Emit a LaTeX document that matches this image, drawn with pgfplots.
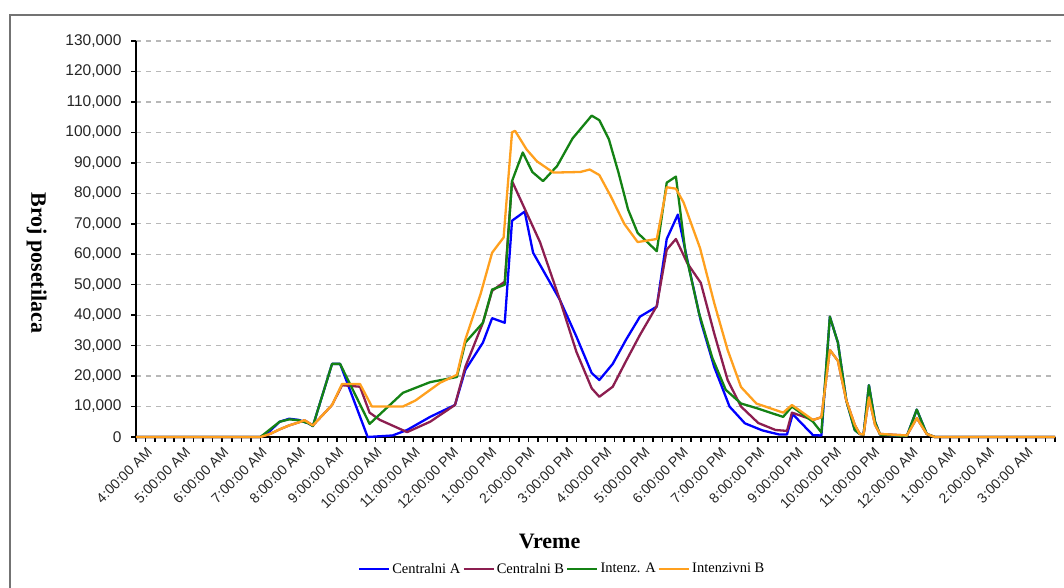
\documentclass[border=0pt]{standalone}
\usepackage{fontspec}
\setmainfont{Liberation Serif}
\newfontfamily\arialfont{Liberation Sans}
\usepackage{pgfplots}
\pgfplotsset{compat=1.18}
\definecolor{cA}{RGB}{0,0,255}
\definecolor{cB}{RGB}{140,30,80}
\definecolor{iA}{RGB}{20,130,20}
\definecolor{iB}{RGB}{255,160,30}
\begin{document}
\begin{tikzpicture}[x=1pt,y=1pt]
\useasboundingbox (0,0) rectangle (1064,588);
\draw[black!55, line width=2pt] (10,-20) rectangle (1084,573);
\begin{axis}[
  at={(136pt,151pt)}, anchor=south west,
  scale only axis, width=919pt, height=396pt,
  xmin=4, xmax=28, ymin=0, ymax=130000,
  clip=false,
  axis x line*=bottom, axis y line*=left,
  axis line style={black, line width=1.6pt},
  every tick/.style={black, line width=1.6pt},
  tick align=outside,
  major tick length=5pt, minor tick length=5pt,
  xtick={4,...,28},
  minor x tick num=3,
  xticklabels={4:00:00 AM,5:00:00 AM,6:00:00 AM,7:00:00 AM,8:00:00 AM,9:00:00 AM,10:00:00 AM,11:00:00 AM,12:00:00 PM,1:00:00 PM,2:00:00 PM,3:00:00 PM,4:00:00 PM,5:00:00 PM,6:00:00 PM,7:00:00 PM,8:00:00 PM,9:00:00 PM,10:00:00 PM,11:00:00 PM,12:00:00 AM,1:00:00 AM,2:00:00 AM,3:00:00 AM,{}},
  ytick={0,10000,...,130000},
  scaled y ticks=false,
  tick label style={color=black!85},
  xticklabel style={font=\arialfont\fontsize{14}{16}\selectfont, rotate=45, anchor=north east, inner sep=1pt, xshift=5pt, yshift=-9pt},
  yticklabel style={font=\arialfont\fontsize{15.5}{18}\selectfont, xshift=-6pt, /pgf/number format/.cd, fixed, 1000 sep={,}, assume math mode=true},
  ymajorgrids,
  major grid style={dash pattern=on 5pt off 5pt, black!28, line width=1.2pt},
  xlabel={Vreme},
  ylabel={Broj posetilaca},
  xlabel style={font=\bfseries\fontsize{22}{24}\selectfont, at={(axis description cs:0.45,-0.263)}, anchor=center},
  ylabel style={font=\bfseries\fontsize{22}{24}\selectfont, at={(axis description cs:-0.108,0.44)}, anchor=center, rotate=180},
  every axis plot/.append style={line width=2.3pt, line join=round, mark=none},
  legend columns=4,
  legend style={at={(axis description cs:0.4636,-0.333)}, anchor=center, draw=none, fill=none,
    font=\fontsize{14.5}{16}\selectfont, inner sep=0pt,
    /tikz/every even column/.append style={column sep=0pt}},
  legend image code/.code={\draw[#1, line width=2.5pt] (0pt,0pt) -- (30pt,0pt);},
]
\addplot[cA] coordinates {
(4,0)(7.25,0)(7.5,2000)(7.75,5000)(8,6000)(8.25,5600)(8.5,4500)(8.62,3600)(9.12,24000)(9.33,24000)
(10.05,0)(10.7,500)(11.08,2300)(11.68,6600)(12.33,10500)(12.6,22000)(13.06,31000)(13.3,39000)(13.63,37500)
(13.82,71000)(14.15,74000)(14.37,60500)(14.8,51000)(15.07,45000)(15.5,33000)(15.9,21000)(16.1,18700)
(16.45,24000)(16.8,32000)(17.16,39500)(17.6,42800)(17.86,65000)(18.15,73000)(18.4,58000)(18.75,38000)
(19.1,23000)(19.5,10000)(19.9,4500)(20.35,2200)(20.8,800)(21.0,800)(21.15,7500)(21.68,600)(21.9,500)
(22.12,39500)(22.33,31000)(22.55,12000)(22.77,2300)(22.9,1000)(23.0,800)(23.14,17000)(23.3,5000)(23.43,800)
(24.13,300)(24.39,9000)(24.65,1000)(24.86,0)(28,0)};
\addlegendentry{Centralni A}
\addplot[cB] coordinates {
(4,0)(7.25,0)(7.5,1000)(7.75,2500)(8,3800)(8.25,4800)(8.4,5500)(8.62,3800)(9.12,10500)(9.38,17000)
(9.85,16500)(10.1,8000)(10.37,5600)(11.08,1600)(11.68,5000)(12.33,10500)(12.6,23000)(13.06,37500)(13.3,48000)
(13.63,51000)(13.82,84000)(14.55,64000)(15.07,45000)(15.5,28000)(15.9,16000)(16.1,13200)(16.45,16500)
(16.8,25000)(17.16,33500)(17.6,43000)(17.86,61500)(18.1,65000)(18.4,57000)(18.75,50600)(19.1,34000)
(19.45,18700)(19.8,10000)(20.25,4600)(20.7,2300)(21.0,2000)(21.13,8000)(21.68,5600)(21.9,6500)
(22.12,28600)(22.33,25000)(22.55,12000)(22.77,4000)(22.9,1000)(23.0,800)(23.14,13000)(23.3,4000)(23.43,1000)
(24.13,500)(24.39,6200)(24.65,1000)(24.86,0)(28,0)};
\addlegendentry{Centralni B}
\addplot[iA] coordinates {
(4,0)(7.25,0)(7.5,2500)(7.75,5000)(8,5800)(8.25,5500)(8.5,4500)(8.62,3600)(9.12,24000)(9.33,24000)
(10.1,4300)(10.97,14500)(11.68,18000)(12.38,19700)(12.6,31000)(13.06,37500)(13.3,48400)(13.63,50000)
(13.82,84000)(14.1,93400)(14.35,87000)(14.63,84000)(15.0,89000)(15.4,98000)(15.9,105500)(16.1,104000)
(16.35,97700)(16.6,86800)(16.85,74700)(17.1,67000)(17.6,61000)(17.86,83500)(18.1,85500)(18.35,60500)
(18.7,40800)(19.05,26000)(19.4,15500)(19.8,11000)(20.2,9500)(20.9,6600)(21.13,10000)(21.68,5000)(21.9,1500)
(22.12,39500)(22.33,31000)(22.55,12000)(22.77,2300)(22.9,1000)(23.0,800)(23.14,17000)(23.3,5000)(23.43,800)
(24.13,300)(24.39,9000)(24.65,1000)(24.86,0)(28,0)};
\addlegendentry{Intenz. A}
\addplot[iB] coordinates {
(4,0)(7.25,0)(7.5,1000)(7.75,2500)(8,3800)(8.25,4800)(8.4,5500)(8.62,3800)(9.12,10500)(9.38,17400)
(9.85,17400)(10.16,10000)(10.97,10000)(11.3,12000)(11.94,17800)(12.38,20400)(12.6,32000)(13.0,47000)
(13.3,60500)(13.6,65500)(13.82,100000)(13.9,100500)(14.2,94400)(14.47,90500)(14.9,86800)(15.6,87000)
(15.85,87800)(16.1,86000)(16.4,79000)(16.75,70000)(17.1,64000)(17.6,65000)(17.86,82000)(18.1,81500)
(18.3,77000)(18.73,62000)(19.1,44000)(19.45,28600)(19.8,16400)(20.2,11000)(20.9,8000)(21.13,10500)
(21.68,5600)(21.9,6500)(22.12,28600)(22.33,25000)(22.55,12000)(22.77,4000)(22.9,1000)(23.0,800)
(23.14,13000)(23.3,4000)(23.43,1000)(24.13,500)(24.39,6200)(24.65,1000)(24.86,0)(28,0)};
\addlegendentry{Intenzivni B}
\end{axis}
\end{tikzpicture}
\end{document}
